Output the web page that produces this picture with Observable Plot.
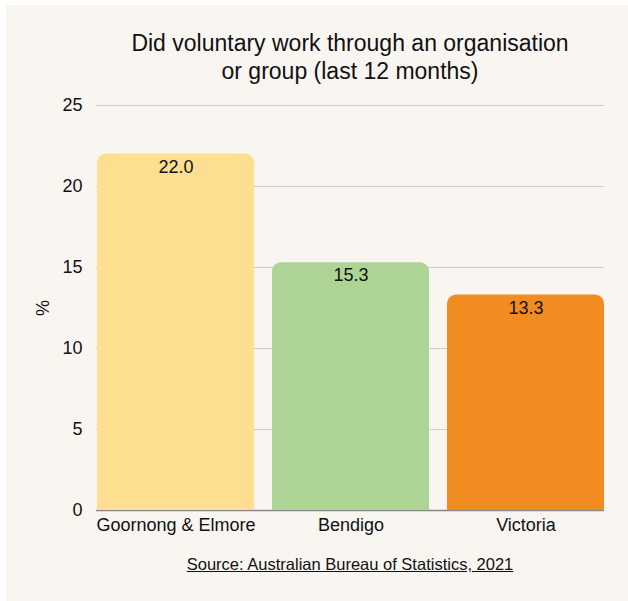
<!DOCTYPE html>
<html>
<head>
<meta charset="utf-8">
<script src="https://cdn.jsdelivr.net/npm/d3@7"></script>
<script src="https://cdn.jsdelivr.net/npm/@observablehq/plot@0.6"></script>
<style>
  html, body { margin: 0; padding: 0; background: #ffffff; }
  body { width: 628px; height: 601px; position: relative; overflow: hidden; font-family: "Liberation Sans", Arial, sans-serif; }
  #panel { position: absolute; left: 6px; top: 5px; width: 622px; height: 596px; background: #f9f6f1; }
  #title { position: absolute; left: 0; width: 688px; top: 24px; text-align: center; font-size: 23px; line-height: 28px; color: #111; }
  #caption { position: absolute; left: 0; width: 688px; top: 549px; text-align: center; font-size: 16.5px; line-height: 20px; color: #111; text-decoration: underline; }
  #chart { position: absolute; left: 0; top: 0; }
</style>
</head>
<body>
<div id="panel">
  <div id="chart"></div>
  <div id="title">Did voluntary work through an organisation<br>or group (last 12 months)</div>
  <div id="caption">Source: Australian Bureau of Statistics, 2021</div>
</div>
<script>
const categories = ["Goornong & Elmore", "Bendigo", "Victoria"];
const values = [22.0, 15.3, 13.3];
const colors = ["#fede90", "#aed495", "#f08c20"];
const yTicks = [0, 5, 10, 15, 20, 25];

const data = categories.map((c, i) => ({category: c, value: values[i], color: colors[i]}));

const chart = Plot.plot({
  width: 622,
  height: 596,
  marginLeft: 90,
  marginRight: 24,
  marginTop: 100,
  marginBottom: 91,
  style: {background: "transparent", fontFamily: "'Liberation Sans', Arial, sans-serif", fontSize: "18px", color: "#111"},
  x: {domain: categories, paddingInner: 0.103, paddingOuter: 0, label: null},
  y: {domain: [0, 25], label: null},
  marks: [
    Plot.ruleY(yTicks.filter(d => d > 0), {stroke: "#cccccc", strokeWidth: 1}),
    Plot.ruleY([0], {stroke: "#888888", strokeWidth: 1.5}),
    Plot.barY(data, {x: "category", y: "value", fill: "color", rx: 9}),
    Plot.barY(data, {x: "category", y1: 0, y2: d => d.value / 2, fill: "color"}),
    Plot.text(data, {x: "category", y: "value", text: d => d.value.toFixed(1), dy: 13, fontSize: 18, fill: "#111"}),
    Plot.axisY({ticks: yTicks, tickSize: 0, tickPadding: 14, fontSize: 18, label: "%", labelAnchor: "center", labelArrow: "none", labelOffset: 60}),
    Plot.axisX({tickSize: 0, tickPadding: 8, fontSize: 18, label: null})
  ]
});
document.getElementById("chart").appendChild(chart);
</script>
</body>
</html>
